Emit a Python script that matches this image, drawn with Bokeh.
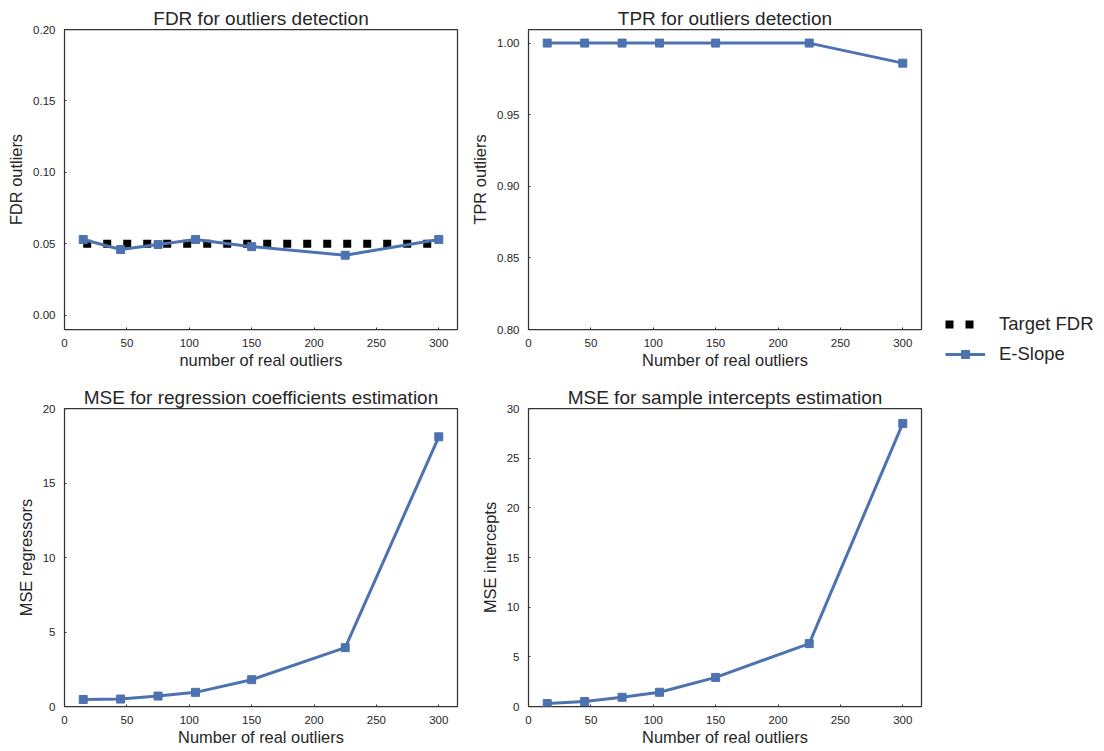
from bokeh.plotting import figure
from bokeh.layouts import column, row
from bokeh.models import Range1d, FixedTicker, Legend, LegendItem, NumeralTickFormatter
from bokeh.embed import file_html
from bokeh.resources import INLINE

# ---- data ----
n_outliers = [15, 45, 75, 105, 150, 225, 300]
fdr_eslope = [0.053, 0.046, 0.0495, 0.053, 0.048, 0.042, 0.053]
tpr_eslope = [1.0, 1.0, 1.0, 1.0, 1.0, 1.0, 0.986]
mse_regressors = [0.47, 0.50, 0.70, 0.95, 1.80, 3.95, 18.1]
mse_intercepts = [0.30, 0.50, 0.93, 1.43, 2.93, 6.33, 28.5]
target_x = [15, 300]
target_fdr = [0.05, 0.05]

x_ticks = [0, 50, 100, 150, 200, 250, 300]
fdr_ticks = [0.0, 0.05, 0.10, 0.15, 0.20]
tpr_ticks = [0.80, 0.85, 0.90, 0.95, 1.00]
reg_ticks = [0, 5, 10, 15, 20]
int_ticks = [0, 5, 10, 15, 20, 25, 30]

FONT = "Liberation Sans"
TXT = "#262626"
BLUE = "#4C72B0"


def make_fig(title, xlabel, ylabel, yr, yticks, yfmt, left, right, top, bottom):
    p = figure(width=left + 393 + right, height=top + 300 + bottom,
               x_range=Range1d(0, 315), y_range=Range1d(*yr),
               output_backend="svg", toolbar_location=None,
               min_border_left=left, min_border_right=right,
               min_border_top=top, min_border_bottom=bottom,
               title=title)
    p.title.text_font = FONT
    p.title.text_font_size = "19px"
    p.title.text_font_style = "normal"
    p.title.text_color = TXT
    p.title.align = "center"
    p.title.standoff = 1
    p.grid.visible = False
    p.outline_line_color = "#333333"
    p.outline_line_width = 1.25
    p.outline_line_alpha = 1.0
    p.xaxis.axis_label = xlabel
    p.yaxis.axis_label = ylabel
    p.xaxis.ticker = FixedTicker(ticks=x_ticks)
    p.yaxis.ticker = FixedTicker(ticks=yticks)
    p.xaxis.formatter = NumeralTickFormatter(format="0")
    p.yaxis.formatter = NumeralTickFormatter(format=yfmt)
    for ax in (p.xaxis[0], p.yaxis[0]):
        ax.axis_line_color = None
        ax.major_tick_in = 2
        ax.major_tick_out = 0
        ax.major_tick_line_color = "#333333"
        ax.minor_tick_line_color = None
        ax.major_label_text_font = FONT
        ax.major_label_text_font_size = "11.5px"
        ax.major_label_text_color = TXT
        ax.axis_label_text_font = FONT
        ax.axis_label_text_font_size = "16.4px"
        ax.axis_label_text_font_style = "normal"
        ax.axis_label_text_color = TXT
    p.yaxis.major_label_standoff = 9
    p.yaxis.axis_label_standoff = 5
    p.xaxis.major_label_standoff = 9
    p.xaxis.axis_label_standoff = 1
    return p


def eslope(p, y):
    p.line(n_outliers, y, line_color=BLUE, line_width=3)
    p.scatter(n_outliers, y, marker="square", size=8, color=BLUE)


p1 = make_fig("FDR for outliers detection", "number of real outliers", "FDR outliers",
              (-0.01, 0.20), fdr_ticks, "0.00", 64, 10, 29, 55)
p1.line(target_x, target_fdr, line_color="black", line_width=8, line_dash="8 12")
eslope(p1, fdr_eslope)

p2 = make_fig("TPR for outliers detection", "Number of real outliers", "TPR outliers",
              (0.80, 1.0095), tpr_ticks, "0.00", 61, 5, 29, 55)
eslope(p2, tpr_eslope)

p3 = make_fig("MSE for regression coefficients estimation", "Number of real outliers", "MSE regressors",
              (0, 20), reg_ticks, "0", 64, 10, 22, 42)
eslope(p3, mse_regressors)

p4 = make_fig("MSE for sample intercepts estimation", "Number of real outliers", "MSE intercepts",
              (0, 30), int_ticks, "0", 61, 5, 22, 42)
eslope(p4, mse_intercepts)

grid = column(row(p1, p2), row(p3, p4))

# legend panel: its renderers lie outside its ranges, only the legend shows
LH = 748
lf = figure(width=178, height=LH, x_range=Range1d(1000, 1001), y_range=Range1d(1000, 1001),
            x_axis_type=None, y_axis_type=None,
            output_backend="svg", toolbar_location=None, min_border=0)
lf.grid.visible = False
lf.outline_line_color = None
r_t = lf.line(target_x, target_fdr, line_color="black", line_width=8, line_dash="8 12")
r_l = lf.line(n_outliers, fdr_eslope, line_color=BLUE, line_width=3)
r_s = lf.scatter(n_outliers, fdr_eslope, marker="square", size=8, color=BLUE)
legend = Legend(items=[LegendItem(label="Target FDR", renderers=[r_t]),
                       LegendItem(label="E-Slope", renderers=[r_l, r_s])],
                location=(19, LH - 365))
legend.padding = 0
legend.margin = 0
legend.spacing = 8
legend.glyph_width = 40
legend.glyph_height = 20
legend.label_height = 20
legend.label_standoff = 14
legend.label_text_font = FONT
legend.label_text_font_size = "18.5px"
legend.label_text_color = TXT
legend.border_line_color = None
legend.background_fill_alpha = 0
lf.add_layout(legend)

layout = row(grid, lf)

open("out.html", "w").write(file_html(layout, INLINE))
